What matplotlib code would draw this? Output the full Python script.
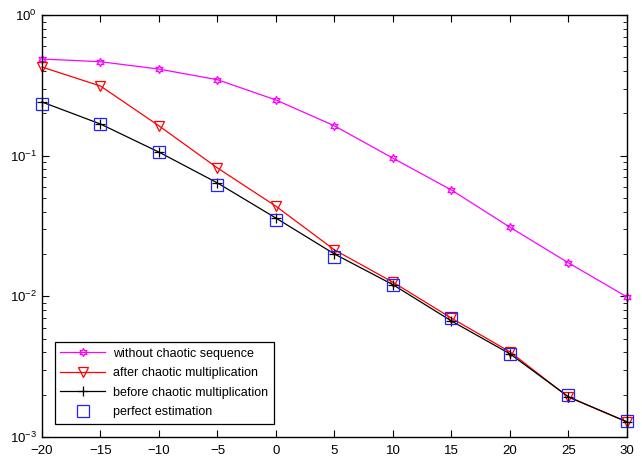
import matplotlib
matplotlib.use('Agg')
import matplotlib.pyplot as plt
from matplotlib.ticker import LogLocator, NullFormatter

plt.rcParams['font.family'] = ['Liberation Sans', 'DejaVu Sans']

# data
snr = [-20, -15, -10, -5, 0, 5, 10, 15, 20, 25, 30]
without_chaotic = [0.487, 0.466, 0.413, 0.347, 0.249, 0.163, 0.096, 0.057, 0.031, 0.0173, 0.0099]
after_chaotic = [0.427, 0.313, 0.163, 0.0818, 0.0437, 0.0214, 0.0126, 0.0070, 0.00403, 0.00192, 0.00128]
before_chaotic = [0.241, 0.168, 0.106, 0.064, 0.036, 0.020, 0.0121, 0.00668, 0.0039, 0.00193, 0.00128]
perfect = [0.233, 0.168, 0.106, 0.062, 0.035, 0.019, 0.012, 0.0070, 0.0039, 0.0020, 0.0013]

fig = plt.figure(figsize=(6.42, 4.57), dpi=100)
ax = fig.add_axes([0.0654, 0.0438, 0.9112, 0.9232])

ax.semilogy(snr, without_chaotic, color='#ff00ff', lw=0.9, marker=(6, 1, 0),
            ms=6, mfc='none', mew=0.9, label='without chaotic sequence', clip_on=False)
ax.semilogy(snr, after_chaotic, color='red', lw=0.9, marker='v',
            ms=7, mfc='none', mew=0.9, label='after chaotic multiplication', clip_on=False)
ax.semilogy(snr, before_chaotic, color='black', lw=0.9, marker='+',
            ms=7, mew=0.9, label='before chaotic multiplication', clip_on=False)
ax.semilogy(snr, perfect, color='#2222ff', ls='none', marker='s',
            ms=8, mfc='none', mew=0.9, label='perfect estimation', clip_on=False)

ax.set_xlim(-20, 30)
ax.set_ylim(1e-3, 1)
ax.set_xticks(range(-20, 31, 5))
ax.yaxis.set_minor_locator(LogLocator(base=10, subs=range(2, 10)))
ax.yaxis.set_minor_formatter(NullFormatter())
ax.tick_params(which='both', direction='in', top=True, right=True, labelsize=9.5)
ax.tick_params(which='major', length=5)
ax.tick_params(which='minor', length=3)
ax.tick_params(axis='x', pad=6)
for s in ax.spines.values():
    s.set_linewidth(1.0)

leg = ax.legend(loc='lower left', bbox_to_anchor=(0.011, 0.016), fontsize=9,
                fancybox=False, edgecolor='black', framealpha=1,
                handlelength=3.6, borderpad=0.45, labelspacing=0.6,
                handletextpad=0.6)
leg.get_frame().set_linewidth(0.9)

fig.savefig('out.png', dpi=100)
